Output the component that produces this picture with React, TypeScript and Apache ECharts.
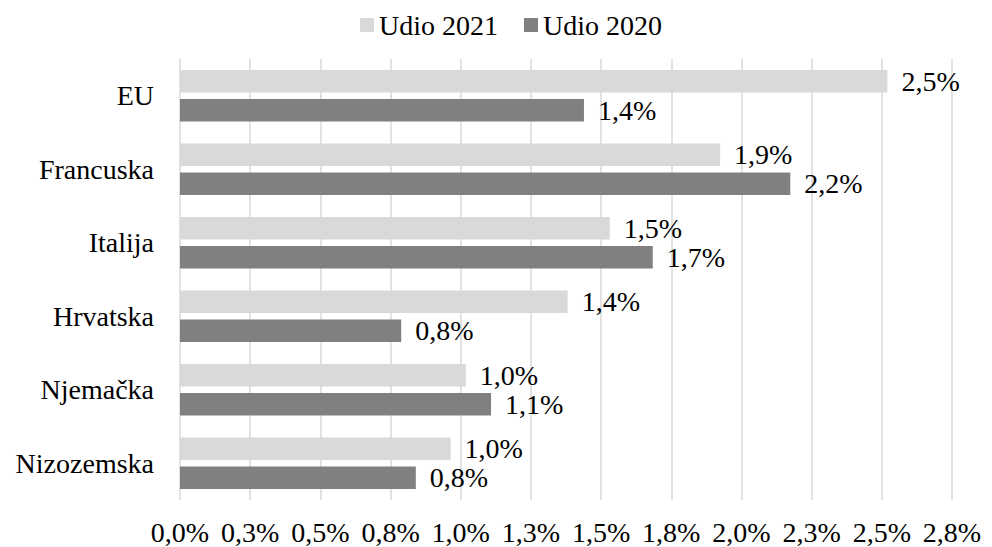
import React, { useEffect, useRef } from "react";
import * as echarts from "echarts";

const categories = ["EU", "Francuska", "Italija", "Hrvatska", "Njemačka", "Nizozemska"];
const udio2021 = [2.52, 1.924, 1.531, 1.381, 1.018, 0.964];
const udio2020 = [1.439, 2.174, 1.684, 0.788, 1.108, 0.84];
const seriesNames = ["Udio 2021", "Udio 2020"];

const FONT = "'Liberation Serif', 'Times New Roman', serif";

const fmt = (v: number) => {
  const r = Math.round(v * 10 + 1e-9) / 10;
  return r.toFixed(1).replace(".", ",") + "%";
};

export default function App() {
  const ref = useRef<HTMLDivElement>(null);
  useEffect(() => {
    document.body.style.margin = "0";
    if (!ref.current) return;
    const chart = echarts.init(ref.current, undefined, { renderer: "svg" });
    const label = {
      show: true,
      position: "right",
      distance: 14,
      formatter: (p: any) => fmt(p.value),
      fontFamily: FONT,
      fontSize: 28,
      color: "#000",
    };
    chart.setOption({
      animation: false,
      textStyle: { fontFamily: FONT },
      legend: {
        data: seriesNames,
        left: 355,
        top: 6,
        itemWidth: 14,
        itemHeight: 14,
        itemGap: 26,
        icon: "rect",
        textStyle: { fontFamily: FONT, fontSize: 28, color: "#000" },
      },
      grid: { left: 180, right: 40, top: 59, bottom: 47, containLabel: false },
      xAxis: {
        type: "value",
        min: 0,
        max: 2.75,
        interval: 0.25,
        axisLine: { show: false },
        axisTick: { show: false },
        splitLine: { show: true, lineStyle: { color: "#d9d9d9", width: 1.5 } },
        axisLabel: {
          formatter: (v: number) => fmt(v),
          fontFamily: FONT,
          fontSize: 28,
          color: "#000",
          margin: 18,
        },
      },
      yAxis: {
        type: "category",
        data: categories,
        inverse: true,
        axisLine: { show: false },
        axisTick: { show: false },
        axisLabel: { fontFamily: FONT, fontSize: 28, color: "#000", margin: 26 },
      },
      series: [
        {
          name: seriesNames[0],
          type: "bar",
          data: udio2021,
          itemStyle: { color: "#d9d9d9" },
          barGap: "30%",
          barCategoryGap: "30%",
          label,
        },
        {
          name: seriesNames[1],
          type: "bar",
          data: udio2020,
          itemStyle: { color: "#808080" },
          barGap: "30%",
          barCategoryGap: "30%",
          label,
        },
      ],
    });
    return () => chart.dispose();
  }, []);
  return <div ref={ref} style={{ width: 992, height: 547 }} />;
}
